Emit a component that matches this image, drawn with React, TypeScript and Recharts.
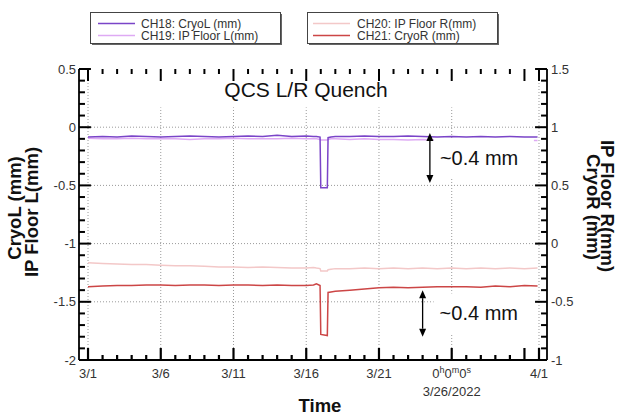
import { LineChart, Line, XAxis, YAxis, ReferenceLine } from "recharts";

// time in days since 3/1/2022 00:00
const T = [0, 1, 2, 3, 4, 5, 6, 7, 8, 9, 10, 11, 12, 13, 14, 15, 15.5, 15.7, 15.95, 16.0, 16.45, 16.5, 16.7, 17, 18, 19, 20, 21, 22, 23, 24, 25, 26, 27, 28, 29, 30, 30.9];

// left axis (mm)
const CH18 = [-0.085, -0.08, -0.085, -0.075, -0.08, -0.085, -0.08, -0.075, -0.08, -0.085, -0.08, -0.075, -0.08, -0.07, -0.08, -0.075, -0.08, -0.08, -0.085, -0.52, -0.52, -0.09, -0.085, -0.08, -0.08, -0.075, -0.08, -0.08, -0.075, -0.08, -0.085, -0.08, -0.085, -0.08, -0.085, -0.08, -0.085, -0.085];
const CH19 = [-0.095, -0.1, -0.1, -0.095, -0.1, -0.1, -0.1, -0.105, -0.1, -0.1, -0.095, -0.1, -0.1, -0.1, -0.095, -0.1, -0.1, -0.1, -0.105, -0.11, -0.11, -0.105, -0.1, -0.1, -0.105, -0.1, -0.105, -0.105, -0.11, -0.105, -0.11, -0.11, -0.11, -0.115, -0.11, -0.115, -0.115, -0.115];
// right axis (mm)
const CH20 = [-0.165, -0.17, -0.175, -0.18, -0.18, -0.185, -0.19, -0.19, -0.195, -0.2, -0.2, -0.205, -0.2, -0.205, -0.21, -0.21, -0.205, -0.21, -0.215, -0.235, -0.235, -0.225, -0.22, -0.215, -0.215, -0.21, -0.215, -0.21, -0.215, -0.21, -0.215, -0.21, -0.215, -0.21, -0.215, -0.21, -0.215, -0.21];
const CH21 = [-0.37, -0.365, -0.36, -0.36, -0.355, -0.355, -0.36, -0.355, -0.355, -0.36, -0.355, -0.355, -0.36, -0.355, -0.36, -0.36, -0.355, -0.345, -0.36, -0.78, -0.79, -0.42, -0.415, -0.41, -0.4, -0.39, -0.38, -0.375, -0.38, -0.375, -0.37, -0.37, -0.37, -0.375, -0.365, -0.37, -0.36, -0.365];

const X_TICKS = [0, 1, 2, 3, 4, 5, 6, 7, 8, 9, 10, 11, 12, 13, 14, 15, 16, 17, 18, 19, 20, 21, 22, 23, 24, 25, 26, 27, 28, 29, 30, 31];
const X_LABELS: Record<number, string> = { 0: "3/1", 5: "3/6", 10: "3/11", 15: "3/16", 20: "3/21", 31: "4/1" };
const X_GRID = [5, 10, 15, 20, 25];
const LEFT_TICKS = [-2, -1.9, -1.8, -1.7, -1.6, -1.5, -1.4, -1.3, -1.2, -1.1, -1, -0.9, -0.8, -0.7, -0.6, -0.5, -0.4, -0.3, -0.2, -0.1, 0, 0.1, 0.2, 0.3, 0.4, 0.5];
const RIGHT_TICKS = [-1, -0.9, -0.8, -0.7, -0.6, -0.5, -0.4, -0.3, -0.2, -0.1, 0, 0.1, 0.2, 0.3, 0.4, 0.5, 0.6, 0.7, 0.8, 0.9, 1, 1.1, 1.2, 1.3, 1.4, 1.5];
const LEFT_LABELS = [-2, -1.5, -1, -0.5, 0, 0.5];
const RIGHT_LABELS = [-1, -0.5, 0, 0.5, 1, 1.5];
const Y_GRID = [0, -0.5, -1, -1.5];

const X_DOMAIN = [-0.62, 31.55];
const FONT = "'Liberation Sans', Arial, sans-serif";
const COLORS = { ch18: "#7a44c8", ch19: "#deaaf4", ch20: "#f3c8c8", ch21: "#cc4646" };

const rows = (vals: number[]) => T.map((t, i) => ({ t, v: vals[i] }));

const isMajorY = (v: number) => Math.abs(v * 2 - Math.round(v * 2)) < 1e-6;
const isMajorX = (v: number) => v % 5 === 0 || v === 31;

function BottomTick(p: any) {
  const { x, y, payload } = p;
  const v = payload.value;
  const len = isMajorX(v) ? 12 : 5;
  return (
    <g>
      <path d={`M${x},${y}V${y - len}`} stroke="#000" strokeWidth={2.2} fill="none" />
      {X_LABELS[v] && (
        <text x={x} y={y + 18} textAnchor="middle" fontSize={13} fill="#333" fontFamily={FONT}>
          {X_LABELS[v]}
        </text>
      )}
      {v === 25 && (
        <g fontFamily={FONT} fill="#333">
          <text x={x} y={y + 18} textAnchor="middle" fontSize={13}>
            <tspan>0</tspan>
            <tspan dy={-5} fontSize={9}>h</tspan>
            <tspan dy={5}>0</tspan>
            <tspan dy={-5} fontSize={9}>m</tspan>
            <tspan dy={5}>0</tspan>
            <tspan dy={-5} fontSize={9}>s</tspan>
          </text>
          <text x={x} y={y + 36} textAnchor="middle" fontSize={13}>3/26/2022</text>
        </g>
      )}
    </g>
  );
}

function LeftTick(p: any) {
  const { x, y, payload } = p;
  return (
    <text x={x - 3} y={y + 4.5} textAnchor="end" fontSize={13} fill="#333" fontFamily={FONT}>
      {payload.value}
    </text>
  );
}

function RightTick(p: any) {
  const { x, y, payload } = p;
  return (
    <text x={x + 4} y={y + 4.5} textAnchor="start" fontSize={13} fill="#333" fontFamily={FONT}>
      {payload.value}
    </text>
  );
}

function Arrow(p: any) {
  const { x1, y1, x2, y2, textDx } = p;
  const h = 8;
  const w = 3.5;
  const mid = (y1 + y2) / 2;
  return (
    <g>
      <rect x={x1 + textDx - 6} y={mid - 20} width={100} height={40} fill="#fff" />
      <line x1={x1} x2={x2} y1={y1 + h} y2={y2 - h} stroke="#000" strokeWidth={1.3} />
      <path d={`M${x1},${y1} L${x1 - w},${y1 + h} L${x1 + w},${y1 + h} Z`} fill="#000" />
      <path d={`M${x2},${y2} L${x2 - w},${y2 - h} L${x2 + w},${y2 - h} Z`} fill="#000" />
      <text x={x1 + textDx} y={mid + 7} fontSize={20} fill="#111" fontFamily={FONT}>
        ~0.4 mm
      </text>
    </g>
  );
}

const grid = { stroke: "#9a9a9a", strokeDasharray: "1 2", strokeWidth: 1 };
const tickStyle = { stroke: "#000", strokeWidth: 2, ifOverflow: "visible" as const };

function Overlay() {
  return (
    <svg width={618} height={416} style={{ position: "absolute", left: 0, top: 0, pointerEvents: "none" }} fontFamily={FONT}>
      {/* legends */}
      <rect x={92} y={14} width={190} height={31} fill="#666" />
      <rect x={90.5} y={12.5} width={190} height={31} fill="#fff" stroke="#444" />
      <line x1={98} x2={135} y1={23.5} y2={23.5} stroke={COLORS.ch18} strokeWidth={1.5} />
      <line x1={98} x2={135} y1={35.5} y2={35.5} stroke={COLORS.ch19} strokeWidth={1.5} />
      <text x={141} y={27.5} fontSize={12} fill="#333">CH18: CryoL (mm)</text>
      <text x={141} y={40} fontSize={12} fill="#333">CH19: IP Floor L(mm)</text>

      <rect x={309} y={14} width={190} height={31} fill="#666" />
      <rect x={307.5} y={12.5} width={190} height={31} fill="#fff" stroke="#444" />
      <line x1={313} x2={350} y1={23.5} y2={23.5} stroke={COLORS.ch20} strokeWidth={1.5} />
      <line x1={313} x2={350} y1={35.5} y2={35.5} stroke={COLORS.ch21} strokeWidth={1.5} />
      <text x={357} y={27.5} fontSize={12} fill="#333">CH20: IP Floor R(mm)</text>
      <text x={357} y={40} fontSize={12} fill="#333">CH21: CryoR (mm)</text>

      {/* title */}
      <text x={306} y={97} textAnchor="middle" fontSize={21} fill="#111">QCS L/R Quench</text>

      {/* axis titles */}
      <g fontWeight="bold" fontSize={18.5} fill="#111" textAnchor="middle">
        <text transform="translate(21,208) rotate(-90)">CryoL (mm)</text>
        <text transform="translate(38,212) rotate(-90)">IP Floor L(mm)</text>
        <text transform="translate(601,206) rotate(90)">IP Floor R(mm)</text>
        <text transform="translate(587,207) rotate(90)">CryoR (mm)</text>
        <text x={320} y={412}>Time</text>
      </g>
    </svg>
  );
}

export default function App() {
  return (
    <div style={{ position: "absolute", left: 0, top: 0, width: 618, height: 416, background: "#fff" }}>
      <LineChart width={618} height={416} margin={{ top: 69, right: 0, bottom: 0, left: 0 }}>
        <XAxis
          xAxisId="bottom"
          dataKey="t"
          type="number"
          domain={X_DOMAIN}
          allowDataOverflow
          ticks={X_TICKS}
          interval={0}
          height={56}
          tickSize={0}
          tickMargin={0}
          tickLine={false}
          axisLine={{ stroke: "#000", strokeWidth: 1.8 }}
          tick={(p: any) => <BottomTick {...p} />}
        />
        <XAxis
          xAxisId="top"
          orientation="top"
          type="number"
          domain={X_DOMAIN}
          allowDataOverflow
          height={0}
          tick={false}
          tickLine={false}
          axisLine={{ stroke: "#000", strokeWidth: 1.8 }}
        />
        <YAxis
          yAxisId="left"
          type="number"
          domain={[-2, 0.5]}
          allowDataOverflow
          ticks={LEFT_LABELS}
          interval={0}
          width={79}
          tickSize={0}
          tickMargin={0}
          tickLine={false}
          axisLine={{ stroke: "#000", strokeWidth: 1.8 }}
          tick={(p: any) => <LeftTick {...p} />}
        />
        <YAxis
          yAxisId="right"
          orientation="right"
          type="number"
          domain={[-1, 1.5]}
          allowDataOverflow
          ticks={RIGHT_LABELS}
          interval={0}
          width={71}
          tickSize={0}
          tickMargin={0}
          tickLine={false}
          axisLine={{ stroke: "#000", strokeWidth: 1.8 }}
          tick={(p: any) => <RightTick {...p} />}
        />

        <ReferenceLine xAxisId="bottom" yAxisId="left" x={0} {...grid} />
        <ReferenceLine xAxisId="bottom" yAxisId="left" x={31} {...grid} />
        {X_GRID.map((d) => (
          <ReferenceLine key={`gx${d}`} xAxisId="bottom" yAxisId="left" segment={[{ x: d, y: -2 }, { x: d, y: 0.17 }]} {...grid} />
        ))}
        {Y_GRID.map((v) => (
          <ReferenceLine key={`gy${v}`} xAxisId="bottom" yAxisId="left" y={v} {...grid} />
        ))}

        {/* inward ticks on top edge */}
        {X_TICKS.map((d) => (
          <ReferenceLine key={`tt${d}`} xAxisId="bottom" yAxisId="left" segment={[{ x: d, y: 0.5 }, { x: d, y: isMajorX(d) ? 0.397 : 0.457 }]} {...tickStyle} />
        ))}
        {/* inward ticks on left / right edges */}
        {LEFT_TICKS.map((v) => (
          <ReferenceLine key={`tl${v}`} xAxisId="bottom" yAxisId="left" segment={[{ x: X_DOMAIN[0], y: v }, { x: X_DOMAIN[0] + (isMajorY(v) ? 0.82 : 0.41), y: v }]} {...tickStyle} />
        ))}
        {RIGHT_TICKS.map((v) => (
          <ReferenceLine key={`tr${v}`} xAxisId="bottom" yAxisId="right" segment={[{ x: X_DOMAIN[1], y: v }, { x: X_DOMAIN[1] - (isMajorY(v) ? 0.82 : 0.41), y: v }]} {...tickStyle} />
        ))}

        <Line xAxisId="bottom" yAxisId="left" data={rows(CH19)} dataKey="v" stroke={COLORS.ch19} strokeWidth={1.5} dot={false} isAnimationActive={false} type="linear" />
        <Line xAxisId="bottom" yAxisId="left" data={rows(CH18)} dataKey="v" stroke={COLORS.ch18} strokeWidth={1.5} dot={false} isAnimationActive={false} type="linear" />
        <Line xAxisId="bottom" yAxisId="right" data={rows(CH20)} dataKey="v" stroke={COLORS.ch20} strokeWidth={1.5} dot={false} isAnimationActive={false} type="linear" />
        <Line xAxisId="bottom" yAxisId="right" data={rows(CH21)} dataKey="v" stroke={COLORS.ch21} strokeWidth={1.5} dot={false} isAnimationActive={false} type="linear" />

        <ReferenceLine
          xAxisId="bottom"
          yAxisId="left"
          segment={[{ x: 23.5, y: -0.05 }, { x: 23.5, y: -0.48 }]}
          shape={(p: any) => <Arrow {...p} textDx={10} />}
        />
        <ReferenceLine
          xAxisId="bottom"
          yAxisId="right"
          segment={[{ x: 23.0, y: -0.4 }, { x: 23.0, y: -0.8 }]}
          shape={(p: any) => <Arrow {...p} textDx={17} />}
        />
      </LineChart>
      <Overlay />
    </div>
  );
}
